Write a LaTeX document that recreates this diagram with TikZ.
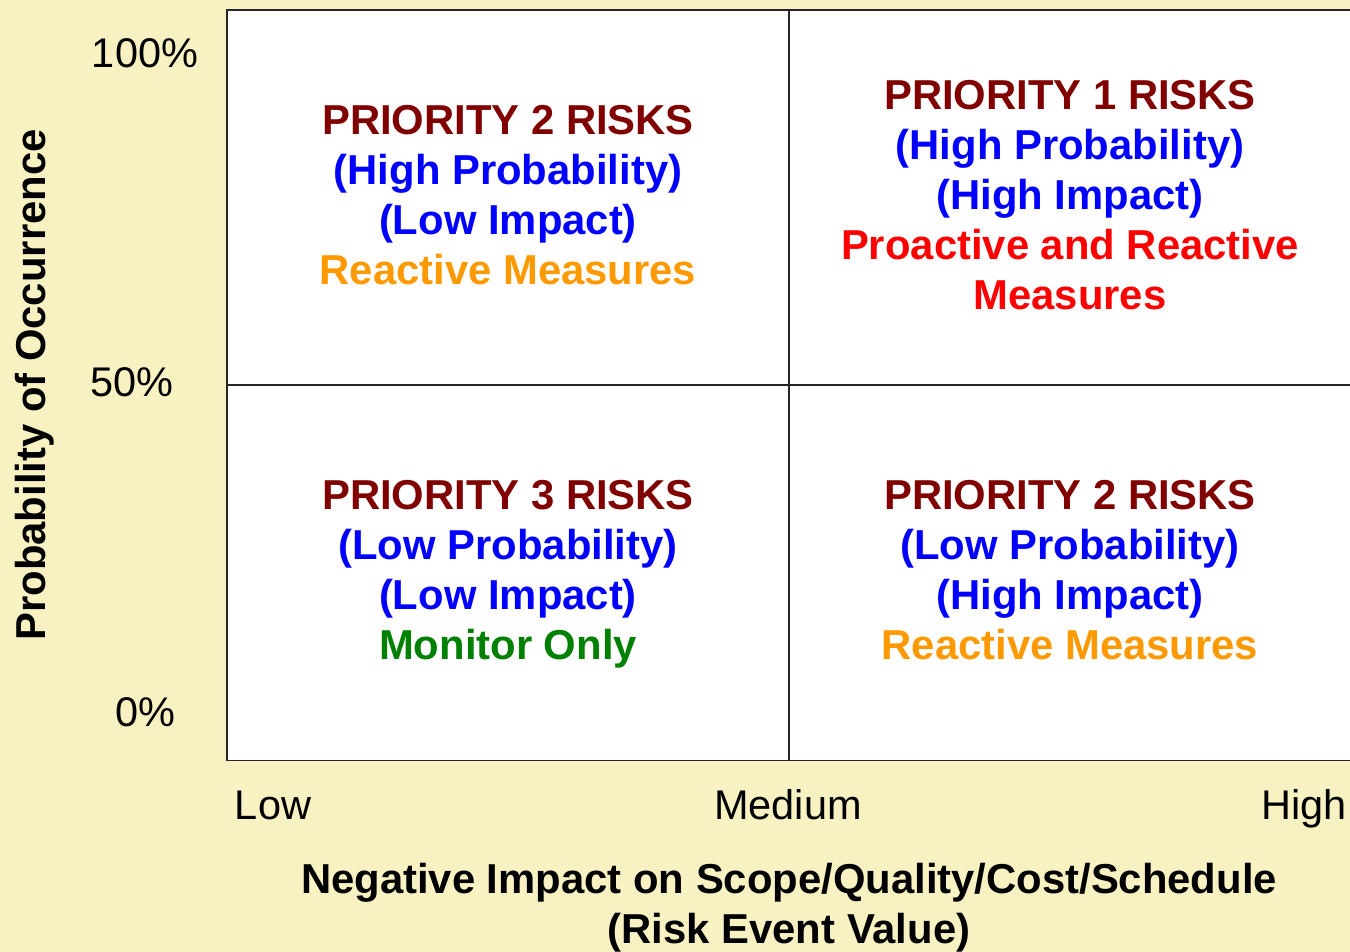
\documentclass[tikz,border=0pt]{standalone}
\usepackage{fontspec}
\setmainfont{Liberation Sans}
\usepackage{tikz,xcolor}

\definecolor{bgyellow}{HTML}{F8F1C2}
\definecolor{prio}{HTML}{800000}
\definecolor{probblue}{HTML}{0000FF}
\definecolor{reactorange}{HTML}{FF9900}
\definecolor{actred}{HTML}{FF0000}
\definecolor{monitorgreen}{HTML}{008000}

\newcommand{\topstrut}{\rule{0pt}{22.1pt}}

\tikzset{
  quad/.style={draw=black!85, line width=0.8pt, fill=white, minimum width=11.24cm,
    minimum height=7.5cm, align=center, inner sep=0pt,
    font=\bfseries\fontsize{23.8}{28.45}\selectfont},
  tick/.style={font=\fontsize{23.6}{28}\selectfont, inner sep=0pt, anchor=base},
  axistitle/.style={font=\bfseries\fontsize{23.8}{28.45}\selectfont, align=center, inner sep=0pt}
}

\begin{document}
\begin{tikzpicture}[x=0.02cm, y=-0.02cm]

% background
\fill[bgyellow] (0,0) rectangle (1350,952);
\useasboundingbox (0,0) rectangle (1350,952);

% quadrants
\node[quad] (q2a) at (508,197.5) {\topstrut\textcolor{prio}{PRIORITY 2 RISKS}\\
  \textcolor{probblue}{(High Probability)}\\
  \textcolor{probblue}{(Low Impact)}\\
  \textcolor{reactorange}{Reactive Measures}\strut};
\node[quad] (q1) at (1070,197.5) {\topstrut\textcolor{prio}{PRIORITY 1 RISKS}\\
  \textcolor{probblue}{(High Probability)}\\
  \textcolor{probblue}{(High Impact)}\\
  \textcolor{actred}{Proactive and Reactive}\\
  \textcolor{actred}{Measures}\strut};
\node[quad] (q3) at (508,573) {\topstrut\textcolor{prio}{PRIORITY 3 RISKS}\\
  \textcolor{probblue}{(Low Probability)}\\
  \textcolor{probblue}{(Low Impact)}\\
  \textcolor{monitorgreen}{Monitor Only}\strut};
\node[quad] (q2b) at (1070,573) {\topstrut\textcolor{prio}{PRIORITY 2 RISKS}\\
  \textcolor{probblue}{(Low Probability)}\\
  \textcolor{probblue}{(High Impact)}\\
  \textcolor{reactorange}{Reactive Measures}\strut};

% probability ticks
\node[tick] (p100) at (145,68) {100\%};
\node[tick] (p50) at (132,397) {50\%};
\node[tick] (p0) at (145,727) {0\%};

% impact ticks
\node[tick] (low) at (273,820) {Low};
\node[tick] (med) at (788,820) {Medium};
\node[tick] (high) at (1304,820) {High};

% axis titles
\node[axistitle, rotate=90] (ytitle) at (35,385) {Probability of Occurrence};
\node[axistitle] (xtitle) at (789,908) {Negative Impact on Scope/Quality/Cost/Schedule\\(Risk Event Value)};

\end{tikzpicture}
\end{document}
